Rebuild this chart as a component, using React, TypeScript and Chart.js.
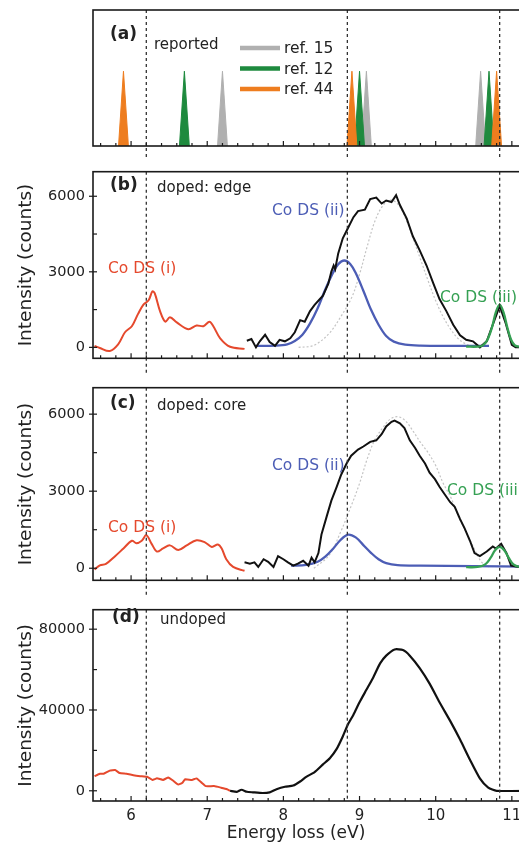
import React, { useEffect, useRef } from "react";
import { Chart, registerables } from "chart.js";

Chart.register(...registerables);

type Pt = [number, number];

// ---------- shared axis data ----------
const X_MIN = 5.5;
const X_MAX = 12;
const X_TICKS = [6, 7, 8, 9, 10, 11, 12];
const DASHED_LINES = [6.2, 8.84, 10.84];

// ---------- panel (a): reported peaks ----------
const REF_LABELS = ["ref. 15", "ref. 12", "ref. 44"];
const REF15_PEAKS = [7.2, 9.09, 10.59];
const REF12_PEAKS = [6.7, 9.0, 10.7];
const REF44_PEAKS = [5.9, 8.9, 10.8];
const PEAK_HEIGHT = 0.55;
const PEAK_HALF_WIDTH = 0.065;

// ---------- panel (b): doped edge ----------
const B_Y_TICKS = [0, 3000, 6000];
const B_Y_MINOR = [1500, 4500];
const coDsI_B: Pt[] = [
  [5.52, 60], [5.59, -25], [5.72, -145], [5.83, 120], [5.92, 600], [6.01, 840], [6.09, 1320],
  [6.16, 1690], [6.23, 1870], [6.28, 2220], [6.31, 2150], [6.38, 1440], [6.45, 1020], [6.51, 1200],
  [6.6, 990], [6.75, 720], [6.86, 870], [6.95, 840], [7.03, 1020], [7.08, 840], [7.17, 360],
  [7.3, 25], [7.49, -60],
];
const total_B: Pt[] = [
  [7.52, 265], [7.58, 330], [7.64, 0], [7.69, 240], [7.76, 500], [7.82, 215], [7.89, 60],
  [7.95, 300], [8.02, 240], [8.09, 360], [8.15, 600], [8.22, 1080], [8.28, 1020], [8.35, 1440],
  [8.41, 1690], [8.48, 1920], [8.52, 2050], [8.59, 2530], [8.63, 3010], [8.66, 3250], [8.68, 3100],
  [8.72, 3730], [8.78, 4330], [8.85, 4750], [8.92, 5170], [8.98, 5410], [9.07, 5470], [9.14, 5890],
  [9.22, 5950], [9.29, 5710], [9.35, 5830], [9.42, 5770], [9.48, 6040], [9.53, 5650], [9.62, 5110],
  [9.7, 4410], [9.79, 3850], [9.88, 3250], [9.97, 2530], [10.05, 1920], [10.14, 1440], [10.23, 900],
  [10.32, 480], [10.4, 300], [10.49, 240], [10.58, 0], [10.67, 240], [10.75, 900], [10.84, 1650],
  [10.92, 950], [11.0, 100], [11.05, 0], [11.4, 0],
];
const coDsII_B: Pt[] = [
  [7.64, 60], [7.9, 70], [8.05, 120], [8.15, 250], [8.25, 500], [8.35, 950], [8.45, 1550],
  [8.55, 2300], [8.65, 2950], [8.72, 3300], [8.8, 3450], [8.88, 3300], [8.95, 2950], [9.05, 2250],
  [9.15, 1500], [9.25, 900], [9.35, 450], [9.45, 230], [9.6, 110], [9.8, 70], [10.2, 60], [10.7, 60],
];
const coDsIII_B: Pt[] = [
  [10.4, 30], [10.55, 30], [10.62, 80], [10.68, 300], [10.74, 800], [10.79, 1400], [10.84, 1700],
  [10.89, 1400], [10.94, 800], [10.99, 300], [11.04, 80], [11.1, 30], [11.2, 30],
];
const host_B: Pt[] = [
  [8.2, 0], [8.4, 80], [8.6, 550], [8.75, 1200], [8.9, 2000], [9.0, 2900], [9.1, 4000], [9.2, 5000],
  [9.3, 5600], [9.4, 5850], [9.5, 5700], [9.6, 5150], [9.7, 4350], [9.8, 3500], [9.9, 2650],
  [10.0, 1850], [10.1, 1200], [10.2, 700], [10.3, 330], [10.4, 130], [10.5, 30], [10.6, 0],
];

// ---------- panel (c): doped core ----------
const C_Y_TICKS = [0, 3000, 6000];
const C_Y_MINOR = [1500, 4500];
const coDsI_C: Pt[] = [
  [5.52, -50], [5.59, 108], [5.67, 170], [5.79, 470], [5.9, 770], [6.01, 1070], [6.07, 975],
  [6.14, 1070], [6.2, 1290], [6.27, 950], [6.34, 650], [6.42, 770], [6.51, 890], [6.62, 710],
  [6.73, 890], [6.86, 1090], [6.97, 1010], [7.06, 830], [7.14, 925], [7.19, 770], [7.25, 350],
  [7.34, 50], [7.49, -100],
];
const total_C: Pt[] = [
  [7.49, 230], [7.56, 180], [7.62, 230], [7.67, 50], [7.74, 350], [7.8, 250], [7.87, 50],
  [7.93, 470], [8.0, 350], [8.06, 230], [8.13, 100], [8.19, 180], [8.26, 290], [8.33, 100],
  [8.37, 410], [8.41, 230], [8.46, 590], [8.5, 1310], [8.57, 2030], [8.63, 2630], [8.7, 3170],
  [8.76, 3650], [8.83, 4080], [8.89, 4380], [8.98, 4620], [9.05, 4740], [9.14, 4920], [9.22, 4980],
  [9.29, 5220], [9.35, 5520], [9.42, 5700], [9.46, 5750], [9.53, 5640], [9.59, 5460], [9.66, 4980],
  [9.73, 4680], [9.79, 4380], [9.86, 4080], [9.92, 3720], [9.99, 3470], [10.05, 3170], [10.12, 2870],
  [10.19, 2570], [10.25, 2390], [10.32, 1910], [10.38, 1550], [10.45, 1070], [10.51, 590],
  [10.58, 470], [10.67, 650], [10.75, 850], [10.79, 770], [10.86, 950], [10.93, 590], [10.99, 100],
  [11.09, 50], [11.4, 40],
];
const coDsII_C: Pt[] = [
  [8.1, 100], [8.3, 130], [8.45, 250], [8.55, 450], [8.65, 750], [8.75, 1100], [8.85, 1310],
  [8.95, 1200], [9.05, 900], [9.15, 600], [9.25, 350], [9.35, 200], [9.5, 120], [9.8, 100],
  [10.5, 80], [11.2, 60],
];
const coDsIII_C: Pt[] = [
  [10.4, 40], [10.55, 50], [10.65, 150], [10.72, 400], [10.78, 700], [10.84, 830], [10.9, 700],
  [10.96, 400], [11.02, 150], [11.1, 50], [11.2, 40],
];
const host_C: Pt[] = [
  [8.4, 0], [8.6, 500], [8.75, 1400], [8.9, 2500], [9.0, 3300], [9.1, 4250], [9.2, 5000],
  [9.3, 5450], [9.4, 5800], [9.5, 5900], [9.6, 5750], [9.7, 5350], [9.8, 4900], [9.9, 4500],
  [10.0, 4000], [10.1, 3300], [10.2, 2750], [10.3, 2000], [10.4, 1400], [10.5, 800], [10.6, 250],
  [10.7, 50],
];

// ---------- panel (d): undoped ----------
const D_Y_TICKS = [0, 40000, 80000];
const D_Y_MINOR = [20000, 60000];
const low_D: Pt[] = [
  [5.52, 7230], [5.59, 8460], [5.64, 8460], [5.72, 9990], [5.79, 10300], [5.85, 8770], [5.94, 8460],
  [6.03, 7690], [6.12, 7230], [6.21, 6920], [6.28, 5380], [6.34, 6150], [6.42, 5380], [6.49, 6610],
  [6.55, 5070], [6.62, 3070], [6.67, 3840], [6.71, 5690], [6.8, 5380], [6.86, 6150], [6.93, 3840],
  [6.98, 2310], [7.09, 2310], [7.18, 1540], [7.26, 770], [7.3, 0],
];
const total_D: Pt[] = [
  [7.3, 0], [7.39, -500], [7.45, 500], [7.52, -500], [7.6, -770], [7.73, -1100], [7.82, -770],
  [7.91, 770], [8.02, 2000], [8.13, 2610], [8.22, 4610], [8.3, 6920], [8.41, 9230], [8.52, 13070],
  [8.61, 16150], [8.7, 20760], [8.78, 26910], [8.85, 33070], [8.92, 37680], [9.0, 43830],
  [9.09, 49980], [9.18, 56130], [9.27, 63050], [9.35, 66900], [9.46, 69980], [9.57, 69670],
  [9.66, 66900], [9.79, 60740], [9.92, 53060], [10.05, 43830], [10.19, 34600], [10.32, 25380],
  [10.45, 15380], [10.58, 6150], [10.69, 1540], [10.8, 0], [11.4, 0],
];

// ---------- styling ----------
const FONT = '"DejaVu Sans", sans-serif';
const CANVAS_W = 640;
const AXIS_W = 93;
const RED = "#E5492D";
const BLUE = "#4C5DB5";
const GREEN = "#35A053";
const GRAY15 = "#B0B0B0";
const GREEN12 = "#1E8A3E";
const ORANGE44 = "#EE7D1F";
const REF_COLORS = [GRAY15, GREEN12, ORANGE44];

const curve = (pts: Pt[], color: string, width: number, tension: number, dash: number[] = []) => ({
  data: pts.map(([x, y]) => ({ x, y })),
  borderColor: color,
  backgroundColor: color,
  borderWidth: width,
  borderDash: dash,
  pointRadius: 0,
  tension,
  fill: false,
});

const peak = (c: number, color: string) => ({
  data: [
    { x: c - PEAK_HALF_WIDTH, y: 0 },
    { x: c, y: PEAK_HEIGHT },
    { x: c + PEAK_HALF_WIDTH, y: 0 },
  ],
  borderColor: color,
  backgroundColor: color,
  borderWidth: 1,
  pointRadius: 0,
  tension: 0,
  fill: "origin",
});

type TextSpec = { t: string; x: number; y: number; color?: string; size?: number; bold?: boolean; align?: CanvasTextAlign };

type PanelProps = {
  top: number;
  height: number;
  padTop: number;
  xAxisH: number;
  yMin: number;
  yMax: number;
  yTicks: number[];
  yMinor: number[];
  showXLabels: boolean;
  dashToBottom: boolean;
  yTitle: boolean;
  legend: boolean;
  datasets: any[];
  texts: TextSpec[];
};

function Panel(p: PanelProps) {
  const ref = useRef<HTMLCanvasElement>(null);
  useEffect(() => {
    const canvas = ref.current!;
    const decor = {
      id: "decor",
      afterDatasetsDraw(chart: any) {
        const { ctx, chartArea: ca } = chart;
        const xs = chart.scales.x;
        const ys = chart.scales.y;
        ctx.save();
        // dashed reference lines
        ctx.strokeStyle = "#333";
        ctx.lineWidth = 1.3;
        ctx.setLineDash([3, 3]);
        for (const v of DASHED_LINES) {
          const px = xs.getPixelForValue(v);
          ctx.beginPath();
          ctx.moveTo(px, ca.top);
          ctx.lineTo(px, p.dashToBottom ? chart.height : ca.bottom);
          ctx.stroke();
        }
        ctx.setLineDash([]);
        // frame
        ctx.strokeStyle = "#1a1a1a";
        ctx.lineWidth = 1.6;
        ctx.strokeRect(ca.left, ca.top, ca.right - ca.left, ca.bottom - ca.top);
        // inward x ticks
        ctx.lineWidth = 1.2;
        for (let k = Math.ceil(X_MIN * 5); k <= Math.floor(X_MAX * 5); k++) {
          const px = xs.getPixelForValue(k / 5);
          const len = k % 5 === 0 ? 5 : 3;
          ctx.beginPath();
          ctx.moveTo(px, ca.bottom);
          ctx.lineTo(px, ca.bottom - len);
          ctx.stroke();
        }
        // y ticks
        for (const v of p.yTicks) {
          const py = ys.getPixelForValue(v);
          ctx.beginPath();
          ctx.moveTo(ca.left - 4, py);
          ctx.lineTo(ca.left + 4, py);
          ctx.stroke();
        }
        for (const v of p.yMinor) {
          const py = ys.getPixelForValue(v);
          ctx.beginPath();
          ctx.moveTo(ca.left, py);
          ctx.lineTo(ca.left + 4, py);
          ctx.stroke();
        }
        // legend (panel a)
        if (p.legend) {
          REF_LABELS.forEach((lab, i) => {
            const y = 48 + i * 20.5;
            ctx.strokeStyle = REF_COLORS[i];
            ctx.lineWidth = 4.5;
            ctx.beginPath();
            ctx.moveTo(240, y);
            ctx.lineTo(280, y);
            ctx.stroke();
            ctx.fillStyle = "#222";
            ctx.font = `15.5px ${FONT}`;
            ctx.textAlign = "left";
            ctx.textBaseline = "middle";
            ctx.fillText(lab, 284, y + 1);
          });
        }
        // y title
        if (p.yTitle) {
          ctx.save();
          ctx.translate(26, (ca.top + ca.bottom) / 2);
          ctx.rotate(-Math.PI / 2);
          ctx.fillStyle = "#222";
          ctx.font = `18.5px ${FONT}`;
          ctx.textAlign = "center";
          ctx.textBaseline = "middle";
          ctx.fillText("Intensity (counts)", 0, 0);
          ctx.restore();
        }
        // annotations
        for (const t of p.texts) {
          ctx.fillStyle = t.color || "#222";
          ctx.font = `${t.bold ? "bold " : ""}${t.size || 15.5}px ${FONT}`;
          ctx.textAlign = t.align || "left";
          ctx.textBaseline = "middle";
          ctx.fillText(t.t, t.x, t.y);
        }
        ctx.restore();
      },
    };

    const chart = new Chart(canvas, {
      type: "line",
      data: { datasets: p.datasets },
      options: {
        animation: false,
        responsive: false,
        devicePixelRatio: 1,
        events: [],
        layout: { padding: { top: p.padTop, right: 52, left: 0, bottom: 0 } },
        plugins: { legend: { display: false }, tooltip: { enabled: false } },
        scales: {
          x: {
            type: "linear",
            min: X_MIN,
            max: X_MAX,
            grid: { display: false, drawTicks: false },
            border: { display: false },
            ticks: {
              display: p.showXLabels,
              font: { family: FONT, size: 15 },
              color: "#222",
              padding: 6,
              maxRotation: 0,
              autoSkip: false,
              callback: (v: any) => String(v),
            },
            afterBuildTicks: (a: any) => {
              a.ticks = X_TICKS.map((v) => ({ value: v }));
            },
            afterFit: (s: any) => {
              s.height = p.xAxisH;
            },
          },
          y: {
            type: "linear",
            min: p.yMin,
            max: p.yMax,
            grid: { display: false, drawTicks: false },
            border: { display: false },
            ticks: {
              display: p.yTicks.length > 0,
              font: { family: FONT, size: 14.5 },
              color: "#222",
              padding: 8,
              autoSkip: false,
              callback: (v: any) => String(v),
            },
            afterBuildTicks: (a: any) => {
              if (p.yTicks.length) a.ticks = p.yTicks.map((v) => ({ value: v }));
            },
            afterFit: (s: any) => {
              s.width = AXIS_W;
            },
          },
        },
      } as any,
      plugins: [decor],
    });
    return () => chart.destroy();
  }, []);
  return (
    <canvas
      ref={ref}
      width={CANVAS_W}
      height={p.height}
      style={{ position: "absolute", left: 0, top: p.top, display: "block" }}
    />
  );
}

export default function App() {
  const peaksA = [
    ...REF15_PEAKS.map((c) => peak(c, GRAY15)),
    ...REF12_PEAKS.map((c) => peak(c, GREEN12)),
    ...REF44_PEAKS.map((c) => peak(c, ORANGE44)),
  ].reverse();

  const dsB = [
    curve(coDsIII_B, GREEN, 2.3, 0.35),
    curve(total_B, "#111", 2, 0),
    curve(coDsII_B, BLUE, 2.3, 0.35),
    curve(coDsI_B, RED, 2, 0.35),
    curve(host_B, "#C4C4C4", 1.2, 0.35, [2, 2]),
  ];
  const dsC = [
    curve(coDsIII_C, GREEN, 2.3, 0.35),
    curve(total_C, "#111", 2, 0),
    curve(coDsII_C, BLUE, 2.3, 0.35),
    curve(coDsI_C, RED, 2, 0.35),
    curve(host_C, "#C4C4C4", 1.2, 0.35, [2, 2]),
  ];
  const dsD = [curve(total_D, "#111", 2.2, 0.2), curve(low_D, RED, 2, 0.1)];

  return (
    <div
      style={{
        position: "absolute",
        left: 0,
        top: 0,
        width: 519,
        height: 852,
        overflow: "hidden",
        background: "#fff",
      }}
    >
      <Panel
        top={0}
        height={159}
        padTop={10}
        xAxisH={13}
        yMin={0}
        yMax={1}
        yTicks={[]}
        yMinor={[]}
        showXLabels={false}
        dashToBottom={true}
        yTitle={false}
        legend={true}
        datasets={peaksA}
        texts={[
          { t: "(a)", x: 110, y: 35, bold: true, size: 17 },
          { t: "reported", x: 154, y: 45, size: 15 },
        ]}
      />
      <Panel
        top={155}
        height={220}
        padTop={2}
        xAxisH={13}
        yMin={-434}
        yMax={6975}
        yTicks={B_Y_TICKS}
        yMinor={B_Y_MINOR}
        showXLabels={false}
        dashToBottom={true}
        yTitle={true}
        legend={false}
        datasets={dsB}
        texts={[
          { t: "(b)", x: 110, y: 31, bold: true, size: 17 },
          { t: "doped: edge", x: 157, y: 33, size: 15 },
          { t: "Co DS (ii)", x: 272, y: 56, color: BLUE },
          { t: "Co DS (i)", x: 108, y: 114, color: RED },
          { t: "Co DS (iii)", x: 440, y: 143, color: GREEN },
        ]}
      />
      <Panel
        top={371}
        height={226}
        padTop={2}
        xAxisH={16}
        yMin={-470}
        yMax={7030}
        yTicks={C_Y_TICKS}
        yMinor={C_Y_MINOR}
        showXLabels={false}
        dashToBottom={true}
        yTitle={true}
        legend={false}
        datasets={dsC}
        texts={[
          { t: "(c)", x: 110, y: 33, bold: true, size: 17 },
          { t: "doped: core", x: 157, y: 35, size: 15 },
          { t: "Co DS (ii)", x: 272, y: 95, color: BLUE },
          { t: "Co DS (i)", x: 108, y: 157, color: RED },
          { t: "Co DS (iii)", x: 447, y: 120, color: GREEN },
        ]}
      />
      <Panel
        top={593}
        height={259}
        padTop={2}
        xAxisH={51}
        yMin={-5060}
        yMax={89650}
        yTicks={D_Y_TICKS}
        yMinor={D_Y_MINOR}
        showXLabels={true}
        dashToBottom={false}
        yTitle={true}
        legend={false}
        datasets={dsD}
        texts={[
          { t: "(d)", x: 112, y: 25, bold: true, size: 17 },
          { t: "undoped", x: 160, y: 27, size: 15 },
          { t: "Energy loss (eV)", x: 296, y: 241, size: 17, align: "center" },
        ]}
      />
    </div>
  );
}
